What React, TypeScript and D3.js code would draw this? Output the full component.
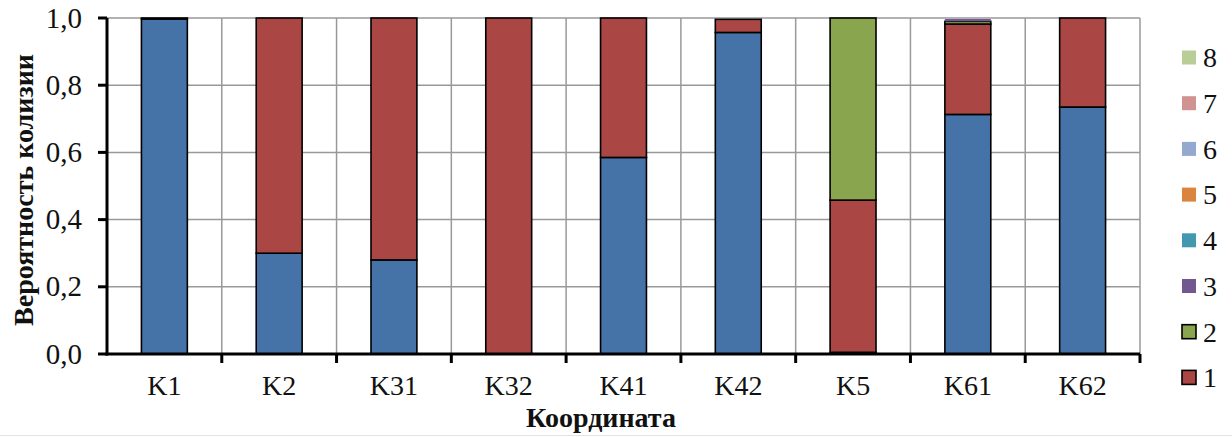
import React from "react";
import * as d3 from "d3";

const categories = ["K1", "K2", "K31", "K32", "K41", "K42", "K5", "K61", "K62"];
const s0 = [0.997, 0.3, 0.28, 0, 0.585, 0.957, 0.005, 0.713, 0.735];
const s1 = [0.003, 0.7, 0.72, 1.0, 0.415, 0.039, 0.453, 0.269, 0.265];
const s2 = [0, 0, 0, 0, 0, 0, 0.542, 0.008, 0];
const s3 = [0, 0, 0, 0, 0, 0, 0, 0.007, 0];
const s4 = [0, 0, 0, 0, 0, 0, 0, 0, 0];
const s5 = [0, 0, 0, 0, 0, 0, 0, 0, 0];
const s6 = [0, 0, 0, 0, 0, 0, 0, 0, 0];
const s7 = [0, 0, 0, 0, 0, 0, 0, 0, 0];
const s8 = [0, 0, 0, 0, 0, 0, 0, 0, 0];
const seriesKeys = ["0", "1", "2", "3", "4", "5", "6", "7", "8"];
const seriesValues = [s0, s1, s2, s3, s4, s5, s6, s7, s8];
const legendKeys = ["8", "7", "6", "5", "4", "3", "2", "1"];
const yTicks = [0, 0.2, 0.4, 0.6, 0.8, 1.0];
const yTitle = "Вероятность колизии";
const xTitle = "Координата";

const colors: Record<string, string> = {
  "0": "#4572A7",
  "1": "#AA4643",
  "2": "#89A54E",
  "3": "#71588F",
  "4": "#4198AF",
  "5": "#DB843D",
  "6": "#93A9CF",
  "7": "#D19392",
  "8": "#B9CD96",
};
const outlined = new Set(["0", "1", "2"]);

export default function App() {
  const W = 1232, H = 437;
  const left = 107, right = 1140, top = 18, bottom = 354;
  const font = "'Liberation Serif', 'Times New Roman', serif";

  const rows = categories.map((c, i) => {
    const r: any = { cat: c };
    seriesKeys.forEach((k, j) => (r[k] = seriesValues[j][i]));
    return r;
  });
  const stacked = d3.stack<any>().keys(seriesKeys)(rows);

  const x = d3.scaleBand<string>().domain(categories).range([left, right]).paddingInner(0.6).paddingOuter(0.3);
  const step = (right - left) / categories.length;
  const y = d3.scaleLinear().domain([0, 1]).range([bottom, top]);
  const fmt = (v: number) => v.toFixed(1).replace(".", ",");

  return (
    <svg width={W} height={H} style={{ position: "absolute", left: 0, top: 0 }} fontFamily={font}>
      <rect x={0} y={0} width={W} height={H} fill="#fff" />
      {yTicks.map((t) => (
        <line key={"h" + t} x1={left} x2={right} y1={y(t)} y2={y(t)} stroke="#999" strokeWidth={1.5} />
      ))}
      {categories.map((c, i) => (
        <line key={"v" + c} x1={left + (i + 1) * step} x2={left + (i + 1) * step} y1={top} y2={bottom} stroke="#999" strokeWidth={1.5} />
      ))}
      {stacked.map((layer) =>
        layer.map((d, i) => {
          const h = y(d[0]) - y(d[1]);
          if (h <= 0) return null;
          const k = layer.key;
          return (
            <rect
              key={k + "-" + i}
              x={x(categories[i])}
              y={y(d[1])}
              width={x.bandwidth()}
              height={h}
              fill={colors[k]}
              stroke={outlined.has(k) ? "#000" : "none"}
              strokeWidth={outlined.has(k) ? 1.6 : 0}
            />
          );
        })
      )}
      <line x1={left} x2={left} y1={top} y2={bottom + 1.5} stroke="#000" strokeWidth={3} />
      <line x1={left - 1.5} x2={right} y1={bottom} y2={bottom} stroke="#000" strokeWidth={3} />
      {yTicks.map((t) => (
        <line key={"yt" + t} x1={left - 9} x2={left} y1={y(t)} y2={y(t)} stroke="#000" strokeWidth={3} />
      ))}
      {categories.map((c, i) => (
        <line key={"xt" + c} x1={left + (i + 1) * step} x2={left + (i + 1) * step} y1={bottom} y2={bottom + 9} stroke="#000" strokeWidth={3} />
      ))}
      {yTicks.map((t) => (
        <text key={"yl" + t} x={82} y={y(t)} dy="0.33em" textAnchor="end" fontSize={29} fill="#111">
          {fmt(t)}
        </text>
      ))}
      {categories.map((c) => (
        <text key={"xl" + c} x={(x(c) as number) + x.bandwidth() / 2} y={395} textAnchor="middle" fontSize={28} fill="#111">
          {c}
        </text>
      ))}
      <text transform={`translate(23,${(top + bottom) / 2 + 4}) rotate(-90)`} textAnchor="middle" dy="0.35em" fontSize={28} fontWeight="bold" fill="#111">
        {yTitle}
      </text>
      <text x={601} y={427} textAnchor="middle" fontSize={28} fontWeight="bold" fill="#111">
        {xTitle}
      </text>
      {legendKeys.map((k, i) => {
        const cy = 57.5 + i * 45.7;
        return (
          <g key={"lg" + k}>
            <rect
              x={1182}
              y={cy - 7}
              width={14}
              height={14}
              fill={colors[k]}
              stroke={outlined.has(k) ? "#000" : "none"}
              strokeWidth={outlined.has(k) ? 1.6 : 0}
            />
            <text x={1203} y={cy} dy="0.35em" fontSize={28} fill="#111">
              {k}
            </text>
          </g>
        );
      })}
      <line x1={0} x2={W} y1={435.5} y2={435.5} stroke="#e4e4e4" strokeWidth={1} />
    </svg>
  );
}
